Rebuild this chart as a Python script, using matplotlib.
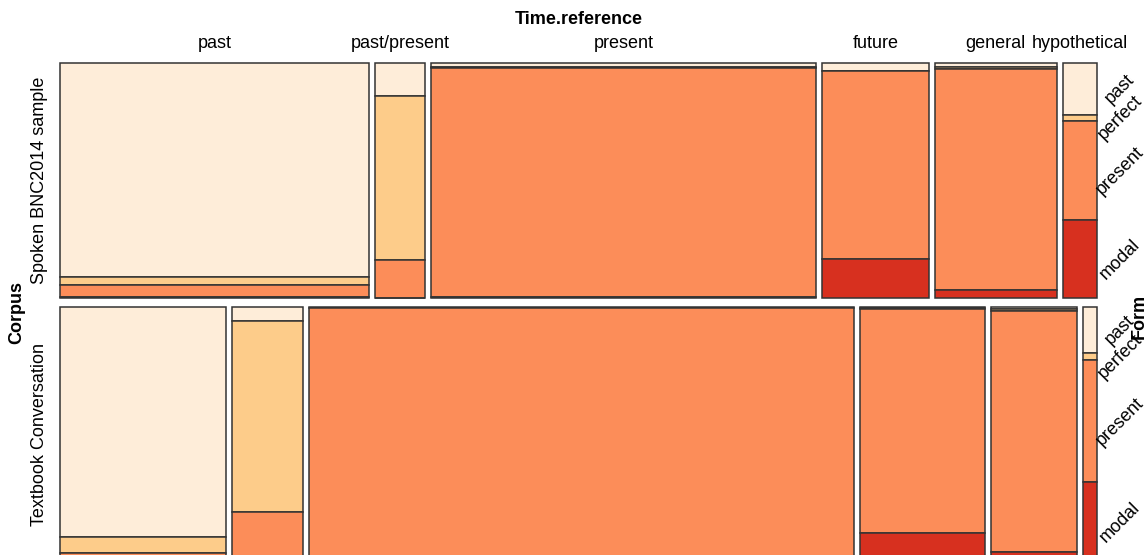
import numpy as np
import matplotlib.pyplot as plt
from matplotlib.patches import Rectangle

plt.rcParams['font.family'] = ['Liberation Sans', 'DejaVu Sans']

# Données : mosaïque Corpus x Time.reference x Form
corpus = ["Spoken BNC2014 sample", "Textbook Conversation"]
time_ref = ["past", "past/present", "present", "future", "general", "hypothetical"]
forms = ["past", "perfect", "present", "modal"]

# part relative de chaque corpus (hauteur des lignes)
corpus_share = [0.48, 0.52]

# part de chaque Time.reference dans chaque corpus (largeurs)
time_share_spoken = [0.307, 0.050, 0.382, 0.106, 0.121, 0.034]
time_share_textbook = [0.165, 0.070, 0.542, 0.124, 0.085, 0.014]

# proportions de Form (past, perfect, present, modal) dans chaque cellule
form_spoken = [
    [0.909, 0.037, 0.048, 0.006],
    [0.142, 0.695, 0.163, 0.000],
    [0.018, 0.003, 0.973, 0.006],
    [0.034, 0.002, 0.798, 0.166],
    [0.018, 0.006, 0.942, 0.034],
    [0.220, 0.028, 0.420, 0.332],
]
form_textbook = [
    [0.900, 0.065, 0.030, 0.005],
    [0.055, 0.750, 0.195, 0.000],
    [0.003, 0.002, 0.990, 0.005],
    [0.004, 0.002, 0.880, 0.114],
    [0.008, 0.008, 0.944, 0.040],
    [0.178, 0.031, 0.478, 0.313],
]

couleurs = ["#FEEDD9", "#FDCC8A", "#FC8D59", "#D7301F"]

time_shares = [time_share_spoken, time_share_textbook]
form_props = [form_spoken, form_textbook]

# mise en page (en pixels)
W, H = 1148, 555
left, right, top, bottom = 60, 1097, 63, 562
col_gap, row_gap = 6, 9
fs = 13

fig = plt.figure(figsize=(W / 100, H / 100), dpi=100)
ax = fig.add_axes([0, 0, 1, 1])
ax.set_xlim(0, W)
ax.set_ylim(H, 0)
ax.axis("off")

total_h = bottom - top - row_gap * (len(corpus) - 1)
total_w = right - left - col_gap * (len(time_ref) - 1)

y0 = top
for r, nom in enumerate(corpus):
    h = corpus_share[r] * total_h
    x0 = left
    for c, t in enumerate(time_ref):
        w = time_shares[r][c] / sum(time_shares[r]) * total_w
        props = np.array(form_props[r][c]) / sum(form_props[r][c])
        y = y0
        centres = []
        for k, p in enumerate(props):
            ax.add_patch(Rectangle((x0, y), w, p * h, facecolor=couleurs[k],
                                   edgecolor="#333333", linewidth=1.1))
            centres.append(y + p * h / 2)
            y += p * h
        # étiquettes du haut (sur la première ligne)
        if r == 0:
            ax.text(x0 + w / 2, 43, t, ha="center", va="center", fontsize=fs)
        # étiquettes Form à droite (d'après la dernière colonne)
        if c == len(time_ref) - 1:
            for k, f in enumerate(forms):
                ax.text(1120, centres[k], f, ha="center", va="center",
                        rotation=45, fontsize=fs)
        x0 += w + col_gap
    ax.text(40, y0 + h / 2, nom, ha="center", va="center", rotation=90, fontsize=fs)
    y0 += h + row_gap

ax.text((left + right) / 2, 20, "Time.reference", ha="center", va="center",
        fontsize=fs, fontweight="bold")
ax.text(17, (top + bottom) / 2, "Corpus", ha="center", va="center",
        rotation=90, fontsize=fs, fontweight="bold")
ax.text(1139, (top + bottom) / 2 + 4, "Form", ha="center", va="center",
        rotation=90, fontsize=fs, fontweight="bold")

fig.savefig("out.png", dpi=100)
